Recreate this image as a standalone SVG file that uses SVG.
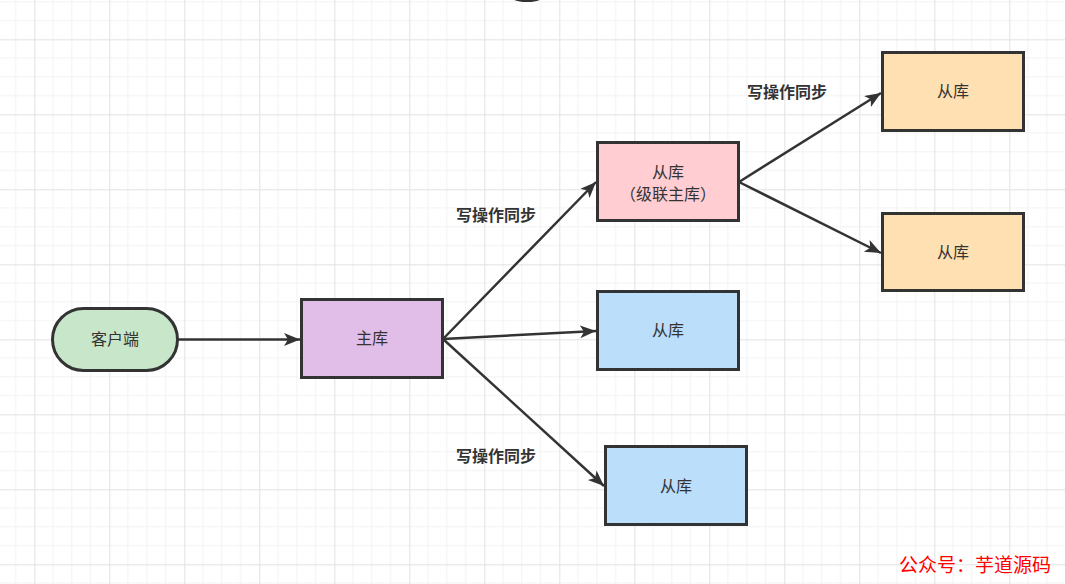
<svg xmlns="http://www.w3.org/2000/svg" width="1065" height="584" viewBox="0 0 1065 584">
<defs>
<pattern id="grid" x="34.3" y="39.3" width="75" height="75" patternUnits="userSpaceOnUse">
<path d="M18.75 0V75M37.5 0V75M56.25 0V75M0 18.75H75M0 37.5H75M0 56.25H75" stroke="#f2f2f2" stroke-width="1" fill="none"/>
<path d="M0.5 0V75M0 0.5H75" stroke="#e2e2e2" stroke-width="1" fill="none"/>
</pattern>
<marker id="arr" markerUnits="userSpaceOnUse" markerWidth="18" markerHeight="14" refX="16" refY="6.5" orient="auto">
<path d="M0,0 L16,6.5 L0,13 L4,6.5 Z" fill="#333"/>
</marker>
<style>
.box{stroke:#333;stroke-width:3}
.t{font-family:"Liberation Sans","Noto Sans CJK SC",sans-serif;font-size:16px;fill:#333;text-anchor:middle;dominant-baseline:central}
.lbl{font-family:"Liberation Sans","Noto Sans CJK SC",sans-serif;font-size:16px;fill:#333;font-weight:bold;text-anchor:middle;dominant-baseline:central}
.c{stroke:#333;stroke-width:2.5;fill:none;marker-end:url(#arr)}
</style>
</defs>
<rect width="1065" height="584" fill="#fff"/>
<rect width="1065" height="584" fill="url(#grid)"/>
<ellipse cx="527" cy="-9" rx="22" ry="11" fill="#333"/>
<g id="connectors">
<path class="c" d="M178 339.5 L300 339.5"/>
<path class="c" d="M443 339 L596 182"/>
<path class="c" d="M443 339 L596 331"/>
<path class="c" d="M443 339 L604 486"/>
<path class="c" d="M739 182 L881 93"/>
<path class="c" d="M739 182 L881 253"/>
</g>
<g id="lbl1"><text class="lbl" x="496" y="215">写操作同步</text></g>
<g id="lbl2"><text class="lbl" x="496" y="456">写操作同步</text></g>
<g id="lbl3"><text class="lbl" x="787" y="92">写操作同步</text></g>
<g id="client"><rect class="box" x="52.5" y="308.5" width="125" height="62" rx="31" fill="#c8e6c9"/><text class="t" x="115" y="339.5">客户端</text></g>
<g id="master"><rect class="box" x="301.5" y="299.5" width="141" height="78" fill="#e1bee7"/><text class="t" x="372" y="338.5">主库</text></g>
<g id="cascade"><rect class="box" x="597.5" y="142.5" width="141" height="78" fill="#ffcdd2"/><text class="t" x="668" y="172">从库</text><text class="t" x="668" y="194">（级联主库）</text></g>
<g id="slave1"><rect class="box" x="597.5" y="291.5" width="141" height="78" fill="#bbdefb"/><text class="t" x="668" y="330.5">从库</text></g>
<g id="slave2"><rect class="box" x="605.5" y="446.5" width="141" height="78" fill="#bbdefb"/><text class="t" x="676" y="486">从库</text></g>
<g id="slave3"><rect class="box" x="882.5" y="52.5" width="141" height="78" fill="#ffe0b2"/><text class="t" x="953" y="91.5">从库</text></g>
<g id="slave4"><rect class="box" x="882.5" y="213.5" width="141" height="77" fill="#ffe0b2"/><text class="t" x="953" y="252">从库</text></g>
<text x="975" y="563" font-family="'Noto Sans CJK SC',sans-serif" font-size="19" fill="#f00" text-anchor="middle" dominant-baseline="central">公众号：芋道源码</text>
</svg>
